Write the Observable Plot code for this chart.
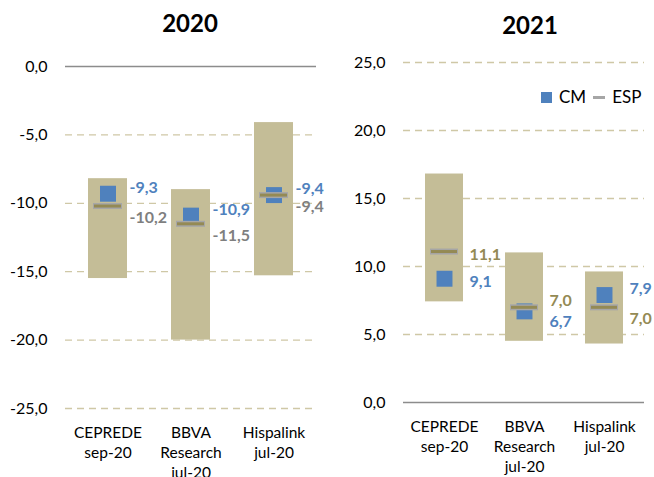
<!DOCTYPE html>
<html><head><meta charset="utf-8">
<script src="https://cdn.jsdelivr.net/npm/d3@7"></script>
<script src="https://cdn.jsdelivr.net/npm/@observablehq/plot@0.6"></script>
<style>
body{margin:0;background:#fff;font-family:Lato,sans-serif;}
#wrap{position:relative;width:654px;height:477px;overflow:hidden;background:#fff;}
.panel{position:absolute;top:0;}
.title{position:absolute;font-weight:bold;font-size:24px;line-height:28px;transform:translateX(-50%);color:#000;z-index:2;}
#legend{position:absolute;left:541px;top:86px;display:flex;align-items:center;font-size:17px;color:#000;line-height:22px;z-index:2;}
#legend .sq{width:11px;height:11px;background:#4F81BD;margin-right:7px;}
#legend .ln{width:12px;height:3px;background:#A6A6A6;margin-left:7px;margin-right:7px;}
</style></head><body>
<div id="wrap">
  <div class="panel" id="p2020" style="left:0px"></div>
  <div class="panel" id="p2021" style="left:330px"></div>
  <div class="title" style="left:190px;top:9px">2020</div>
  <div class="title" style="left:530px;top:11px">2021</div>
  <div id="legend"><div class="sq"></div><span>CM</span><div class="ln"></div><span>ESP</span></div>
</div>
<script>
const sources = ["CEPREDE\nsep-20", "BBVA\nResearch\njul-20", "Hispalink\njul-20"];
const low2020 = [-15.5, -20.0, -15.3];
const high2020 = [-8.2, -9.0, -4.1];
const cm2020 = [-9.3, -10.9, -9.4];
const esp2020 = [-10.2, -11.5, -9.4];
const low2021 = [7.4, 4.5, 4.3];
const high2021 = [16.8, 11.0, 9.6];
const cm2021 = [9.1, 6.7, 7.9];
const esp2021 = [11.1, 7.0, 7.0];
const ticks2020 = [0, -5, -10, -15, -20, -25];
const ticks2021 = [0, 5, 10, 15, 20, 25];

const fmt = v => d3.format(".1f")(v).replace(".", ",").replace("\u2212", "-");

function panel({low, high, cm, esp, ticks, domain, width, mTop, mBottom, mLeft, mRight, espLabel, labelDx}) {
  const rows = sources.map((s, i) => ({source: s, low: low[i], high: high[i], cm: cm[i], esp: esp[i]}));
  const txt = {x: "source", dx: labelDx, textAnchor: "start", fontWeight: "bold", fontSize: 16};
  const far = d => Math.abs(d.cm - d.esp) > 1.5;
  const near = d => !far(d);
  return Plot.plot({
    width, height: 477,
    marginTop: mTop, marginBottom: mBottom, marginLeft: mLeft, marginRight: mRight,
    style: {fontFamily: "Lato, sans-serif", background: "#fff", color: "#000"},
    x: {domain: sources, paddingInner: 0.53, paddingOuter: 0.265, label: null},
    y: {domain, label: null},
    marks: [
      Plot.ruleY(ticks.filter(t => t !== 0), {stroke: "#CFC8A6", strokeWidth: 1.3, strokeDasharray: "7,5"}),
      Plot.ruleY([0], {stroke: "#8C8C8C", strokeWidth: 1.3}),
      Plot.barY(rows, {x: "source", y1: "low", y2: "high", fill: "#C4BD97"}),
      Plot.dot(rows, {x: "source", y: "cm", symbol: "square", r: 9, fill: "#4F81BD", stroke: "none"}),
      Plot.tickY(rows, {x: "source", y: "esp", stroke: "#A6A6A6", strokeWidth: 6, insetLeft: 5, insetRight: 5}),
      Plot.tickY(rows, {x: "source", y: "esp", stroke: "#948A54", strokeWidth: 3, insetLeft: 6, insetRight: 6}),
      Plot.text(rows.filter(far), {...txt, y: "cm", text: d => fmt(d.cm), fill: "#4F81BD", dy: 3}),
      Plot.text(rows.filter(far), {...txt, y: "esp", text: d => fmt(d.esp), fill: espLabel, dy: 3}),
      Plot.text(rows.filter(d => near(d) && d.cm >= d.esp), {...txt, y: "cm", text: d => fmt(d.cm), fill: "#4F81BD", dy: -6}),
      Plot.text(rows.filter(d => near(d) && d.cm < d.esp), {...txt, y: "cm", text: d => fmt(d.cm), fill: "#4F81BD", dy: 10}),
      Plot.text(rows.filter(d => near(d) && d.esp > d.cm), {...txt, y: "esp", text: d => fmt(d.esp), fill: espLabel, dy: -6}),
      Plot.text(rows.filter(d => near(d) && d.esp <= d.cm), {...txt, y: "esp", text: d => fmt(d.esp), fill: espLabel, dy: 12}),
      Plot.axisY({ticks, tickFormat: fmt, tickSize: 0, tickPadding: 18, fontSize: 16, fill: "#000"}),
      Plot.axisX({tickSize: 0, tickPadding: 15, fontSize: 15.5, lineHeight: 1.3, fill: "#000"})
    ]
  });
}

document.getElementById("p2020").append(panel({
  low: low2020, high: high2020, cm: cm2020, esp: esp2020, ticks: ticks2020, domain: [-25, 0],
  width: 330, mTop: 66, mBottom: 69, mLeft: 65, mRight: 14, espLabel: "#7F7F7F", labelDx: 21.5
}));
document.getElementById("p2021").append(panel({
  low: low2021, high: high2021, cm: cm2021, esp: esp2021, ticks: ticks2021, domain: [0, 25],
  width: 324, mTop: 62, mBottom: 75, mLeft: 73, mRight: 10, espLabel: "#948A54", labelDx: 25
}));
</script>
</body></html>
